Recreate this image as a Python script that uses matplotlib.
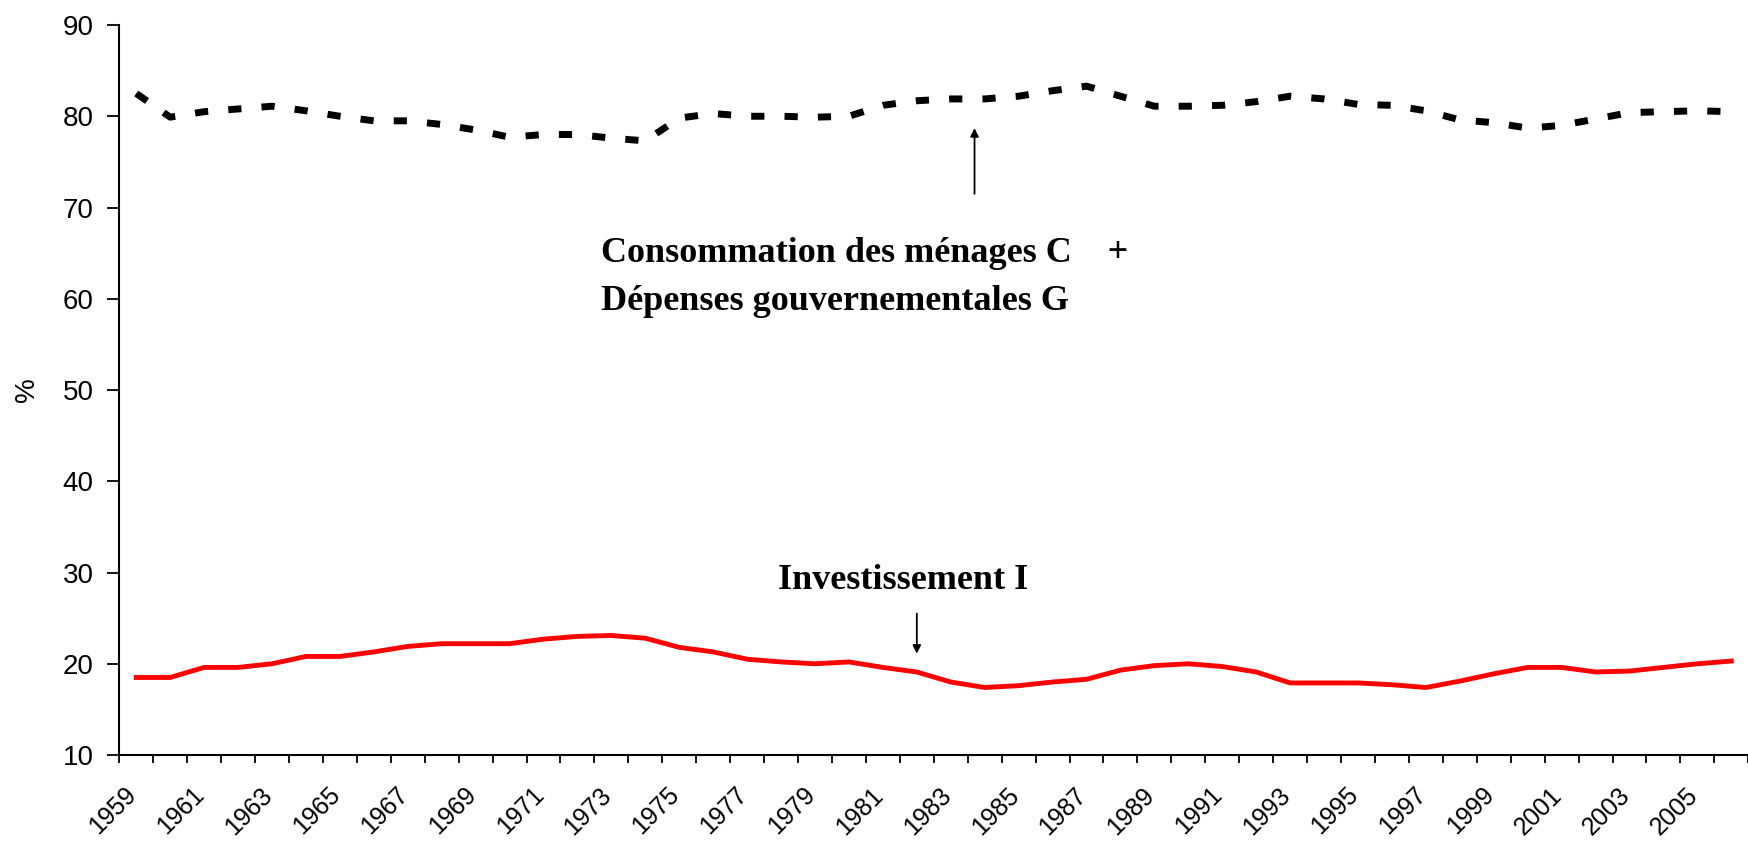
import matplotlib
matplotlib.use("Agg")
import matplotlib.pyplot as plt
import matplotlib.transforms as mtransforms
import numpy as np

# Part du PIB (%), 1959-2006
years = list(range(1959, 2007))

conso_gouv = [82.5, 79.9, 80.5, 80.8, 81.1, 80.6, 80.0, 79.5, 79.5, 79.1,
              78.5, 77.7, 78.0, 78.0, 77.6, 77.3, 79.8, 80.3, 80.0, 80.0,
              79.9, 80.0, 81.2, 81.7, 81.9, 81.9, 82.2, 82.8, 83.3, 82.2,
              81.1, 81.1, 81.2, 81.6, 82.2, 81.9, 81.3, 81.2, 80.6, 79.6,
              79.3, 78.7, 79.0, 79.7, 80.4, 80.5, 80.6, 80.5]

investissement = [18.5, 18.5, 19.6, 19.6, 20.0, 20.8, 20.8, 21.3, 21.9, 22.2,
                  22.2, 22.2, 22.7, 23.0, 23.1, 22.8, 21.8, 21.3, 20.5, 20.2,
                  20.0, 20.2, 19.6, 19.1, 18.0, 17.4, 17.6, 18.0, 18.3, 19.3,
                  19.8, 20.0, 19.7, 19.1, 17.9, 17.9, 17.9, 17.7, 17.4, 18.1,
                  18.9, 19.6, 19.6, 19.1, 19.2, 19.6, 20.0, 20.3]

y_ticks = [10, 20, 30, 40, 50, 60, 70, 80, 90]

tick_font = ["Liberation Sans", "DejaVu Sans"]
label_font = ["Liberation Serif", "DejaVu Serif"]

fig = plt.figure(figsize=(17.49, 8.42), dpi=100)
ax = fig.add_axes([0.0682, 0.1033, 0.9314, 0.867])

x = np.arange(len(years))
ax.plot(x, conso_gouv, color="black", lw=5, linestyle=(0, (1.9, 2.9)))
ax.plot(x, investissement, color="red", lw=3.5)

ax.set_xlim(-0.5, len(years) - 0.5)
ax.set_ylim(10, 90)
ax.set_yticks(y_ticks)
ax.set_yticklabels([str(v) for v in y_ticks], fontsize=20, family=tick_font)

# ticks between categories, labels every 2 years
ax.set_xticks(np.arange(len(years) + 1) - 0.5)
ax.set_xticklabels([])
ax.set_xticks(x[::2], minor=True)
ax.set_xticklabels([str(y) for y in years[::2]], minor=True, rotation=45,
                   ha="right", va="top", rotation_mode="anchor",
                   fontsize=18, family=tick_font)
ax.tick_params(axis="x", which="minor", length=0, pad=20)
ax.tick_params(axis="x", which="major", length=6, width=1.3, direction="out")
ax.tick_params(axis="y", length=8.5, width=1.3, direction="out", pad=10)

shift = mtransforms.ScaledTranslation(-0.12, 0, fig.dpi_scale_trans)
for lbl in ax.get_xticklabels(minor=True):
    lbl.set_transform(lbl.get_transform() + shift)

for side in ["top", "right"]:
    ax.spines[side].set_visible(False)
for side in ["left", "bottom"]:
    ax.spines[side].set_linewidth(1.5)

ax.set_ylabel("%", fontsize=20, family=tick_font, va="center")
ax.yaxis.set_label_coords(-0.0567, 0.5)

ax.text(13.7, 65.0, "Consommation des ménages C    +", fontsize=26,
        fontweight="bold", family=label_font, ha="left", va="center")
ax.text(13.7, 59.7, "Dépenses gouvernementales G", fontsize=26,
        fontweight="bold", family=label_font, ha="left", va="center")
ax.annotate("", xy=(24.7, 79.0), xytext=(24.7, 71.2),
            arrowprops=dict(arrowstyle="-|>", lw=1.3, color="black",
                            mutation_scale=12))

ax.text(18.9, 29.1, "Investissement I", fontsize=26, fontweight="bold",
        family=label_font, ha="left", va="center")
ax.annotate("", xy=(23.0, 20.8), xytext=(23.0, 25.8),
            arrowprops=dict(arrowstyle="-|>", lw=1.3, color="black",
                            mutation_scale=12))

fig.savefig("out.png", dpi=100)
